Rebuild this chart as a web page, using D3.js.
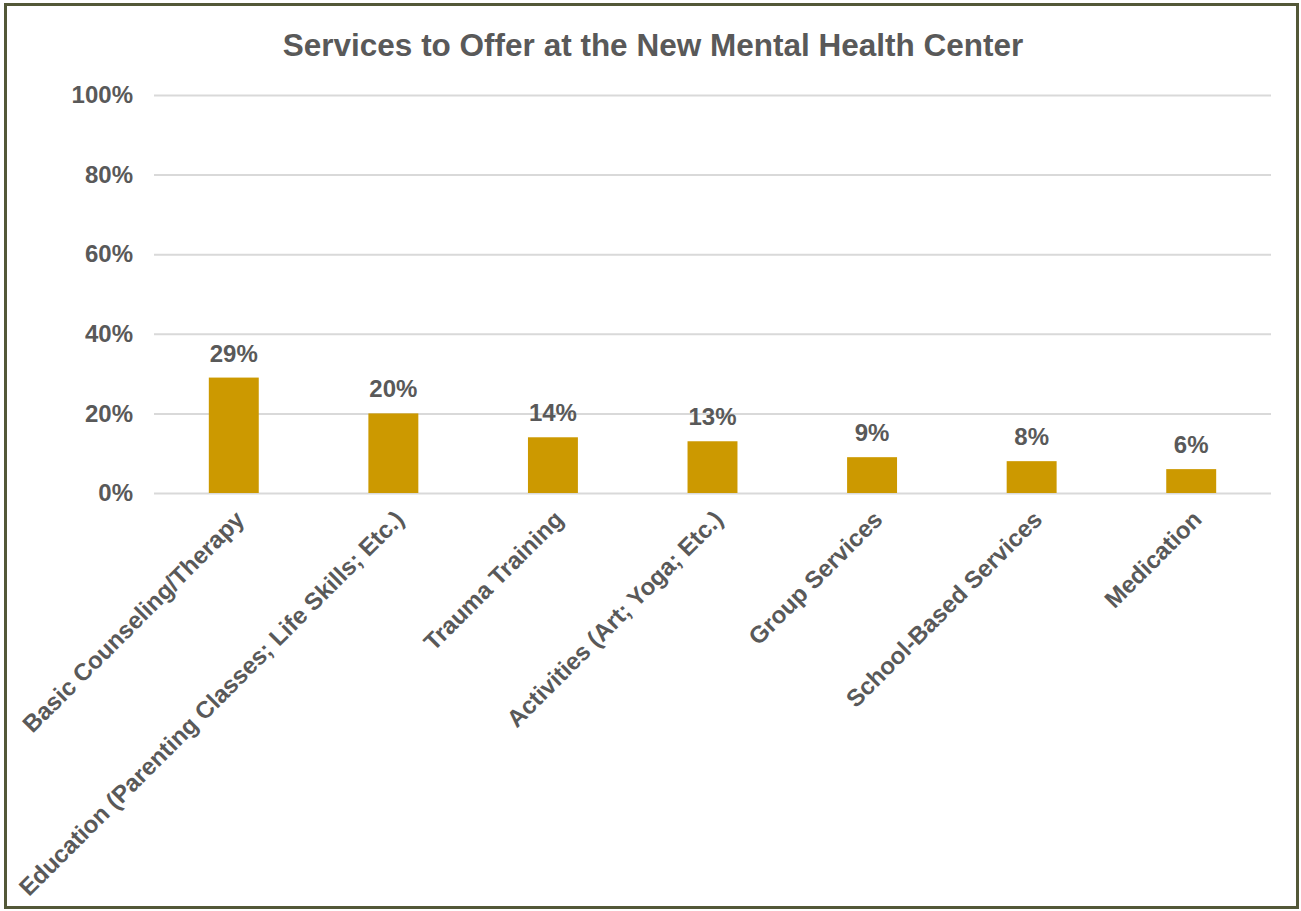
<!DOCTYPE html>
<html><head><meta charset="utf-8">
<script src="https://cdn.jsdelivr.net/npm/d3@7"></script>
<style>
html,body{margin:0;padding:0;background:#fff;}
svg{display:block;}
text{font-family:"Liberation Sans",Arial,sans-serif;}
</style></head>
<body>
<script>
const categories = ["Basic Counseling/Therapy","Education (Parenting Classes; Life Skills; Etc.)","Trauma Training","Activities (Art; Yoga; Etc.)","Group Services","School-Based Services","Medication"];
const values = [29,20,14,13,9,8,6];
const yTicks = [0,20,40,60,80,100];
const title = "Services to Offer at the New Mental Health Center";

(function(){
const W = 1301, H = 911;
const svg = d3.select("body").append("svg").attr("width", W).attr("height", H);
svg.append("rect").attr("x",0).attr("y",0).attr("width",W).attr("height",H).attr("fill","#fff");
svg.append("rect").attr("x",5.5).attr("y",4.5).attr("width",1292).attr("height",903)
  .attr("fill","none").attr("stroke","#535838").attr("stroke-width",3);

const mLeft = 154, mRight = 1271, mTop = 95, mBottom = 493;
const x = d3.scaleBand().domain(categories).range([mLeft, mRight]).paddingInner(0.687).paddingOuter(0.3435);
const y = d3.scaleLinear().domain([0,100]).range([mBottom, mTop]);

svg.append("text").attr("x", 653).attr("y", 56).attr("text-anchor","middle")
  .attr("font-size", 31.5).attr("font-weight","bold").attr("fill","#595959").text(title);

const gy = svg.append("g").attr("transform",`translate(${mLeft},0)`)
  .call(d3.axisLeft(y).tickValues(yTicks).tickSize(-(mRight-mLeft)).tickFormat(d=>d+"%"));
gy.select(".domain").remove();
gy.selectAll(".tick line").attr("stroke","#d9d9d9").attr("stroke-width",2);
gy.selectAll(".tick text").attr("x",-21).attr("font-size",24).attr("font-weight","bold").attr("fill","#595959").attr("font-family","Liberation Sans, Arial, sans-serif");

svg.selectAll("rect.bar").data(values).enter().append("rect").attr("class","bar")
  .attr("x",(d,i)=>x(categories[i])).attr("width",x.bandwidth())
  .attr("y",d=>y(d)).attr("height",d=>mBottom-y(d)).attr("fill","#cc9900");

svg.selectAll("text.lbl").data(values).enter().append("text").attr("class","lbl")
  .attr("x",(d,i)=>x(categories[i])+x.bandwidth()/2).attr("y",d=>y(d)-16)
  .attr("text-anchor","middle").attr("font-size",24).attr("font-weight","bold").attr("fill","#595959")
  .text(d=>d+"%");

const gx = svg.append("g").attr("transform",`translate(0,${mBottom})`)
  .call(d3.axisBottom(x).tickSize(0).tickPadding(0));
gx.select(".domain").remove();
gx.selectAll(".tick text")
  .attr("font-size",24).attr("font-weight","bold").attr("fill","#595959").attr("font-family","Liberation Sans, Arial, sans-serif")
  .attr("text-anchor","end").attr("dy","0.35em").attr("y",0)
  .attr("transform","translate(6,22) rotate(-45)");
})();
</script>
</body></html>
